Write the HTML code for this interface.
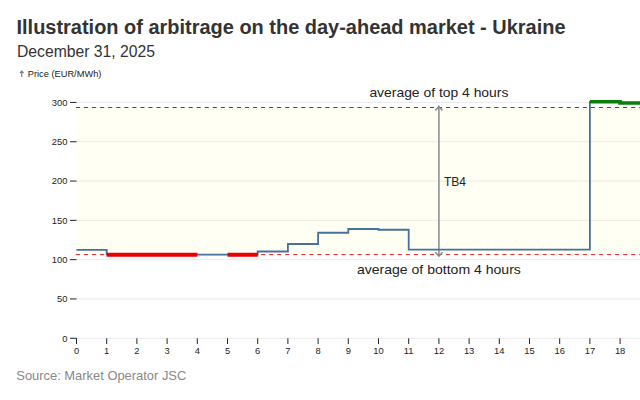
<!DOCTYPE html><html><head><meta charset="utf-8"><style>html,body{margin:0;padding:0;background:#fff;width:640px;height:400px;overflow:hidden}svg{display:block}text{font-family:"Liberation Sans",sans-serif}</style></head><body>
<svg width="640" height="400" viewBox="0 0 640 400">
<rect width="640" height="400" fill="#fff"/>
<text x="16.5" y="33.5" font-size="20" font-weight="bold" fill="#333" textLength="549" lengthAdjust="spacingAndGlyphs">Illustration of arbitrage on the day-ahead market - Ukraine</text>
<text x="17" y="56.8" font-size="16" fill="#333" textLength="138" lengthAdjust="spacingAndGlyphs">December 31, 2025</text>
<path d="M21.75,71.3V77M19.9,73.1L21.75,71.1L23.6,73.1" fill="none" stroke="#777" stroke-width="1.1"/>
<text x="27.8" y="76.8" font-size="9.4" fill="#222" textLength="73.6" lengthAdjust="spacingAndGlyphs">Price (EUR/MWh)</text>
<rect x="76.5" y="107.5" width="564" height="147.1" fill="#fffff4"/>
<line x1="76.5" x2="640" y1="338.25" y2="338.25" stroke="#000" stroke-opacity="0.085"/>
<line x1="70" x2="76.5" y1="338.25" y2="338.25" stroke="#222"/>
<text x="67.5" y="341.60" font-size="9.4" fill="#222" text-anchor="end">0</text>
<line x1="76.5" x2="640" y1="298.95" y2="298.95" stroke="#000" stroke-opacity="0.085"/>
<line x1="70" x2="76.5" y1="298.95" y2="298.95" stroke="#222"/>
<text x="67.5" y="302.30" font-size="9.4" fill="#222" text-anchor="end">50</text>
<line x1="76.5" x2="640" y1="259.65" y2="259.65" stroke="#000" stroke-opacity="0.085"/>
<line x1="70" x2="76.5" y1="259.65" y2="259.65" stroke="#222"/>
<text x="67.5" y="263.00" font-size="9.4" fill="#222" text-anchor="end">100</text>
<line x1="76.5" x2="640" y1="220.35" y2="220.35" stroke="#000" stroke-opacity="0.085"/>
<line x1="70" x2="76.5" y1="220.35" y2="220.35" stroke="#222"/>
<text x="67.5" y="223.70" font-size="9.4" fill="#222" text-anchor="end">150</text>
<line x1="76.5" x2="640" y1="181.05" y2="181.05" stroke="#000" stroke-opacity="0.085"/>
<line x1="70" x2="76.5" y1="181.05" y2="181.05" stroke="#222"/>
<text x="67.5" y="184.40" font-size="9.4" fill="#222" text-anchor="end">200</text>
<line x1="76.5" x2="640" y1="141.75" y2="141.75" stroke="#000" stroke-opacity="0.085"/>
<line x1="70" x2="76.5" y1="141.75" y2="141.75" stroke="#222"/>
<text x="67.5" y="145.10" font-size="9.4" fill="#222" text-anchor="end">250</text>
<line x1="76.5" x2="640" y1="102.45" y2="102.45" stroke="#000" stroke-opacity="0.085"/>
<line x1="70" x2="76.5" y1="102.45" y2="102.45" stroke="#222"/>
<text x="67.5" y="105.80" font-size="9.4" fill="#222" text-anchor="end">300</text>
<line x1="76.50" x2="76.50" y1="338.25" y2="344" stroke="#222"/>
<text x="76.50" y="353.75" font-size="9.4" fill="#222" text-anchor="middle">0</text>
<line x1="106.70" x2="106.70" y1="338.25" y2="344" stroke="#222"/>
<text x="106.70" y="353.75" font-size="9.4" fill="#222" text-anchor="middle">1</text>
<line x1="136.90" x2="136.90" y1="338.25" y2="344" stroke="#222"/>
<text x="136.90" y="353.75" font-size="9.4" fill="#222" text-anchor="middle">2</text>
<line x1="167.10" x2="167.10" y1="338.25" y2="344" stroke="#222"/>
<text x="167.10" y="353.75" font-size="9.4" fill="#222" text-anchor="middle">3</text>
<line x1="197.30" x2="197.30" y1="338.25" y2="344" stroke="#222"/>
<text x="197.30" y="353.75" font-size="9.4" fill="#222" text-anchor="middle">4</text>
<line x1="227.50" x2="227.50" y1="338.25" y2="344" stroke="#222"/>
<text x="227.50" y="353.75" font-size="9.4" fill="#222" text-anchor="middle">5</text>
<line x1="257.70" x2="257.70" y1="338.25" y2="344" stroke="#222"/>
<text x="257.70" y="353.75" font-size="9.4" fill="#222" text-anchor="middle">6</text>
<line x1="287.90" x2="287.90" y1="338.25" y2="344" stroke="#222"/>
<text x="287.90" y="353.75" font-size="9.4" fill="#222" text-anchor="middle">7</text>
<line x1="318.10" x2="318.10" y1="338.25" y2="344" stroke="#222"/>
<text x="318.10" y="353.75" font-size="9.4" fill="#222" text-anchor="middle">8</text>
<line x1="348.30" x2="348.30" y1="338.25" y2="344" stroke="#222"/>
<text x="348.30" y="353.75" font-size="9.4" fill="#222" text-anchor="middle">9</text>
<line x1="378.50" x2="378.50" y1="338.25" y2="344" stroke="#222"/>
<text x="378.50" y="353.75" font-size="9.4" fill="#222" text-anchor="middle">10</text>
<line x1="408.70" x2="408.70" y1="338.25" y2="344" stroke="#222"/>
<text x="408.70" y="353.75" font-size="9.4" fill="#222" text-anchor="middle">11</text>
<line x1="438.90" x2="438.90" y1="338.25" y2="344" stroke="#222"/>
<text x="438.90" y="353.75" font-size="9.4" fill="#222" text-anchor="middle">12</text>
<line x1="469.10" x2="469.10" y1="338.25" y2="344" stroke="#222"/>
<text x="469.10" y="353.75" font-size="9.4" fill="#222" text-anchor="middle">13</text>
<line x1="499.30" x2="499.30" y1="338.25" y2="344" stroke="#222"/>
<text x="499.30" y="353.75" font-size="9.4" fill="#222" text-anchor="middle">14</text>
<line x1="529.50" x2="529.50" y1="338.25" y2="344" stroke="#222"/>
<text x="529.50" y="353.75" font-size="9.4" fill="#222" text-anchor="middle">15</text>
<line x1="559.70" x2="559.70" y1="338.25" y2="344" stroke="#222"/>
<text x="559.70" y="353.75" font-size="9.4" fill="#222" text-anchor="middle">16</text>
<line x1="589.90" x2="589.90" y1="338.25" y2="344" stroke="#222"/>
<text x="589.90" y="353.75" font-size="9.4" fill="#222" text-anchor="middle">17</text>
<line x1="620.10" x2="620.10" y1="338.25" y2="344" stroke="#222"/>
<text x="620.10" y="353.75" font-size="9.4" fill="#222" text-anchor="middle">18</text>
<line x1="76" x2="640" y1="107.5" y2="107.5" stroke="#2d5e2d" stroke-dasharray="4.1 3.945"/>
<line x1="76" x2="640" y1="254.6" y2="254.6" stroke="#e2202a" stroke-dasharray="4.1 3.945"/>
<line x1="438.9" x2="438.9" y1="107" y2="255.5" stroke="#888" stroke-width="1.5"/>
<path d="M435.4,110.5L438.9,106.5L442.4,110.5" fill="none" stroke="#888" stroke-width="1.5"/>
<path d="M435.29999999999995,252.2L438.9,256.2L442.5,252.2" fill="none" stroke="#888" stroke-width="1.5"/>
<path d="M76.50,249.8H106.70V254.7H136.90V254.7H167.10V254.7H197.30V254.7H227.50V254.7H257.70V251.5H287.90V244H318.10V232.75H348.30V229H378.50V229.75H408.70V249.6H438.90V249.6H469.10V249.6H499.30V249.6H529.50V249.6H559.70V249.6H589.90V101.8H620.10V103.0H650.30V103.0H680.50" fill="none" stroke="#46719c" stroke-width="1.8"/>
<path d="M106.70,254.7H197.30M227.50,254.7H257.70" stroke="#e80000" stroke-width="4" fill="none"/>
<path d="M589.90,101.8H620.10V103H680.50" stroke="#0a800a" stroke-width="3.6" fill="none"/>
<text x="438.9" y="97" font-size="13" fill="#222" text-anchor="middle" textLength="139" lengthAdjust="spacingAndGlyphs">average of top 4 hours</text>
<text x="438.9" y="273.8" font-size="13" fill="#222" text-anchor="middle" textLength="164" lengthAdjust="spacingAndGlyphs">average of bottom 4 hours</text>
<text x="444" y="185.6" font-size="13" fill="#222" textLength="22" lengthAdjust="spacingAndGlyphs">TB4</text>
<text x="16.3" y="380.3" font-size="13" fill="#888" textLength="170" lengthAdjust="spacingAndGlyphs">Source: Market Operator JSC</text>
</svg></body></html>
